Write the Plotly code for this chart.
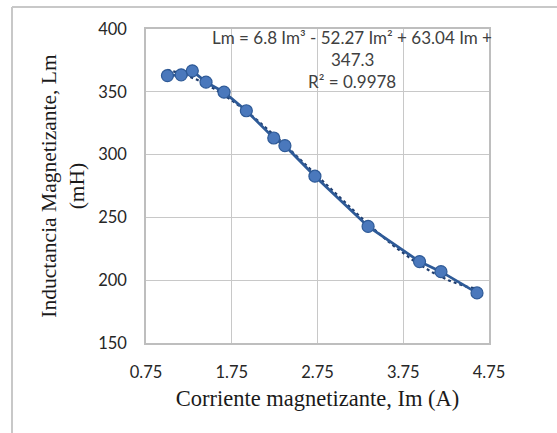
import numpy as np
import plotly.graph_objects as go

# Data
corriente_im = [1.00, 1.16, 1.29, 1.45, 1.66, 1.92, 2.24, 2.37, 2.72, 3.34, 3.94, 4.19, 4.61]
inductancia_lm = [362.9, 363.5, 366.7, 357.7, 349.7, 334.9, 313.2, 307.1, 282.8, 242.8, 214.8, 206.8, 189.9]
x_ticks = [0.75, 1.75, 2.75, 3.75, 4.75]
y_ticks = [150, 200, 250, 300, 350, 400]
eq_lines = ["Lm = 6.8 Im³ - 52.27 Im² + 63.04 Im +", "347.3", "R² = 0.9978"]

# Polynomial (order 3) trendline fitted to the data, as the spreadsheet does
coef = np.polyfit(corriente_im, inductancia_lm, 3)
xt = np.linspace(min(corriente_im), max(corriente_im), 120)
yt = np.polyval(coef, xt)

blue_line = "#2E5A97"
blue_fill = "#4A78BC"

fig = go.Figure()
fig.add_trace(go.Scatter(x=xt, y=yt, mode="lines",
                         line=dict(color="#1F3D6E", width=2.2, dash="dot"),
                         hoverinfo="skip", showlegend=False))
fig.add_trace(go.Scatter(x=corriente_im, y=inductancia_lm, mode="lines+markers",
                         line=dict(color=blue_line, width=2.8),
                         marker=dict(size=12, color=blue_fill,
                                     line=dict(color=blue_line, width=1.2)),
                         showlegend=False))

ann = []
for i, t in enumerate(eq_lines):
    ann.append(dict(xref="paper", yref="paper", x=(352 - 146) / 343,
                    y=1 - (37 + 22.5 * i - 29) / 314, text=t, showarrow=False,
                    xanchor="center", yanchor="middle",
                    font=dict(family="Lato, Open Sans, sans-serif", size=17, color="#404040")))

# outer frame (left and top edges)
frame_col = "#C8C8C8"
shapes = [
    dict(type="line", xref="paper", yref="paper", x0=(12 - 146) / 343, x1=(12 - 146) / 343,
         y0=(343 - 440) / 314, y1=1 + (29 - 7) / 314, line=dict(color=frame_col, width=2)),
    dict(type="line", xref="paper", yref="paper", x0=(12 - 146) / 343, x1=(570 - 146) / 343,
         y0=1 + (29 - 7) / 314, y1=1 + (29 - 7) / 314, line=dict(color=frame_col, width=2)),
]

fig.update_layout(
    width=557, height=433,
    margin=dict(l=146, r=68, t=29, b=90),
    paper_bgcolor="white", plot_bgcolor="white",
    annotations=ann, shapes=shapes,
    xaxis=dict(range=[0.75, 4.75], tickvals=x_ticks, ticktext=[f"{v:.2f}" for v in x_ticks],
               showgrid=True, gridcolor="#C8C8C8", gridwidth=1.3,
               showline=True, linecolor="#BEBEBE", linewidth=1.5, mirror=True,
               zeroline=False, ticks="", ticklabelstandoff=13,
               tickfont=dict(family="Lato, Open Sans, sans-serif", size=16.5, color="#262626"),
               title=dict(text="Corriente magnetizante, Im (A)", standoff=10,
                          font=dict(family="Liberation Serif, Times New Roman, serif", size=22.5, color="#1a1a1a"))),
    yaxis=dict(range=[150, 400], tickvals=y_ticks,
               showgrid=True, gridcolor="#C8C8C8", gridwidth=1.3,
               showline=True, linecolor="#BEBEBE", linewidth=1.5, mirror=True,
               zeroline=False, ticks="", ticklabelstandoff=14,
               tickfont=dict(family="Lato, Open Sans, sans-serif", size=16.5, color="#262626"),
               title=dict(text="Inductancia Magnetizante, Lm<br>(mH)", standoff=8,
                          font=dict(family="Liberation Serif, Times New Roman, serif", size=21.5, color="#1a1a1a"))),
)

fig.write_html("out.html")
